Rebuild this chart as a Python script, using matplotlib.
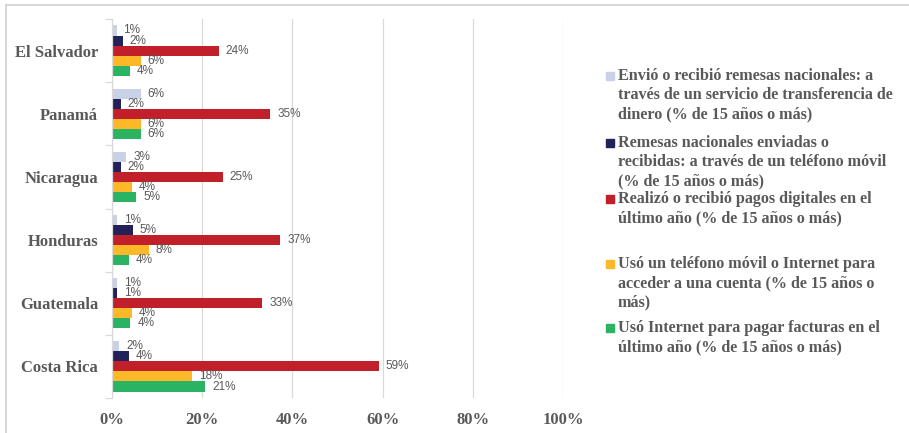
import matplotlib.pyplot as plt
from matplotlib.lines import Line2D
from matplotlib.patches import Rectangle
from matplotlib.ticker import FuncFormatter
import numpy as np

# Datos (% de 15 años o más)
paises = ['El Salvador', 'Panamá', 'Nicaragua', 'Honduras', 'Guatemala', 'Costa Rica']
remesas_servicio = [1.0, 6.4, 3.2, 1.1, 1.1, 1.6]
remesas_movil = [2.4, 1.9, 1.9, 4.6, 1.1, 3.7]
pagos_digitales = [23.7, 35.1, 24.6, 37.3, 33.3, 59.2]
movil_cuenta = [6.4, 6.4, 4.4, 8.2, 4.4, 17.7]
internet_facturas = [3.9, 6.4, 5.4, 3.7, 4.1, 20.7]

series = [remesas_servicio, remesas_movil, pagos_digitales, movil_cuenta, internet_facturas]
nombres = [
    'Envió o recibió remesas nacionales: a\ntravés de un servicio de transferencia de\ndinero (% de 15 años o más)',
    'Remesas nacionales enviadas o\nrecibidas: a través de un teléfono móvil\n(% de 15 años o más)',
    'Realizó o recibió pagos digitales en el\núltimo año (% de 15 años o más)',
    'Usó un teléfono móvil o Internet para\nacceder a una cuenta (% de 15 años o\nmás)',
    'Usó Internet para pagar facturas en el\núltimo año (% de 15 años o más)',
]
colores = ['#C8D1E6', '#232159', '#C1202A', '#FDB829', '#29B362']

gris = '#595959'
serif = ['Liberation Serif', 'DejaVu Serif']

fig = plt.figure(figsize=(9.09, 4.33), dpi=100)
ax = fig.add_axes([112 / 909, 1 - 398 / 433, 451 / 909, 379 / 433])

y = np.arange(len(paises))[::-1]
h = 0.159
for i, (vals, c) in enumerate(zip(series, colores)):
    pos = y + (2 - i) * h
    bars = ax.barh(pos, vals, height=h, color=c, edgecolor='none')
    for b, v in zip(bars, vals):
        ax.annotate(f'{round(v):.0f}%', (b.get_width(), b.get_y() + h / 2),
                    xytext=(5, 0), textcoords='offset points',
                    va='center', ha='left', fontsize=8.5, color=gris,
                    family=['Liberation Sans', 'DejaVu Sans'])

ax.set_xlim(0, 100)
ax.set_ylim(-0.5, len(paises) - 0.5)
ax.set_xticks(range(0, 101, 20))
ax.xaxis.set_major_formatter(FuncFormatter(lambda v, p: f'{v:.0f}%'))
ax.grid(axis='x', color='#D9D9D9', lw=0.9)
ax.set_axisbelow(True)

ax.set_yticks(y)
ax.set_yticklabels(paises)
ax.set_yticks(np.arange(-0.5, len(paises), 1), minor=True)
ax.tick_params(axis='y', which='major', length=0, pad=10)
ax.tick_params(axis='y', which='minor', length=5, color='#D9D9D9', width=0.9)
ax.tick_params(axis='x', length=0, pad=10)
for lab in ax.get_yticklabels() + ax.get_xticklabels():
    lab.set_family(serif)
    lab.set_fontweight('bold')
    lab.set_fontsize(12)
    lab.set_color(gris)

for s in ['top', 'right', 'bottom']:
    ax.spines[s].set_visible(False)
ax.spines['left'].set_color('#D9D9D9')
ax.spines['left'].set_linewidth(0.9)

# leyenda manual
ys_leyenda = [76, 143, 199, 264, 328]
for nombre, c, yy in zip(nombres, colores, ys_leyenda):
    fig.patches.append(Rectangle((606 / 909, 1 - (yy + 4) / 433), 8 / 909, 8 / 433,
                                 transform=fig.transFigure, color=c))
    fig.text(618 / 909, 1 - (yy - 8) / 433, nombre, ha='left', va='top',
             fontsize=11.6, fontweight='bold', color=gris, family=serif,
             linespacing=1.25)

# borde del gráfico
fig.add_artist(Line2D([6 / 909, 1], [1 - 4.5 / 433] * 2, color='#D0D0D0', lw=1.2,
                      transform=fig.transFigure))
fig.add_artist(Line2D([6 / 909] * 2, [0, 1 - 4.5 / 433], color='#D0D0D0', lw=1.2,
                      transform=fig.transFigure))

fig.savefig('out.png', dpi=100)
